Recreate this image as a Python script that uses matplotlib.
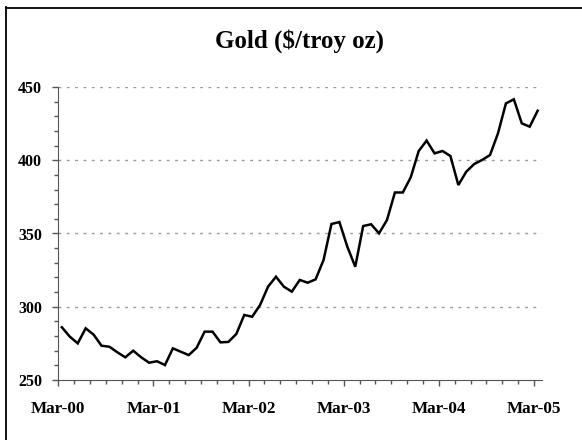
import matplotlib
matplotlib.use("Agg")
import matplotlib.pyplot as plt
from matplotlib.lines import Line2D
from matplotlib.ticker import MultipleLocator

# monthly gold price, Mar-00 .. Mar-05
prices = [286, 279.6, 275, 285.3, 281, 273.4, 272.7, 268.9, 265.5, 270,
          265.5, 261.8, 262.8, 260.2, 271.6, 269.3, 267, 272, 283, 283,
          275.7, 276, 281.4, 294.4, 293.2, 301.2, 313.7, 320.5, 313.7, 310.3,
          318.3, 316.4, 318.7, 331.9, 356.5, 357.8, 341, 327.3, 355.1, 356.3,
          350.1, 359.2, 378, 378, 388.4, 406.3, 413.4, 404.7, 406.3, 402.9,
          383.1, 392.2, 397.4, 400.2, 403.6, 418.4, 438.8, 441.6, 425.2, 422.9,
          433.8]
year_labels = ["Mar-00", "Mar-01", "Mar-02", "Mar-03", "Mar-04", "Mar-05"]
y_ticks = [250, 300, 350, 400, 450]

plt.rcParams['font.family'] = ['Liberation Serif', 'DejaVu Serif']

fig = plt.figure(figsize=(5.82, 4.40), dpi=100)
ax = fig.add_axes([57.5 / 582, 60 / 440, 484.5 / 582, 293 / 440])

# points sit a little after the month tick (mid-month values)
months = [i + 0.45 for i in range(len(prices))]
ax.plot(months, prices, color="black", lw=1.8, solid_joinstyle="miter")

ax.set_ylim(250, 450)
ax.set_xlim(-0.1, 61)
ax.set_yticks(y_ticks)
ax.yaxis.set_minor_locator(MultipleLocator(10))
ax.set_xticks(range(0, 61, 12))
ax.set_xticklabels(year_labels)
ax.xaxis.set_minor_locator(MultipleLocator(2))

for t in ax.get_xticklabels():
    t.set_fontweight("bold")
    t.set_fontsize(12.3)
for t in ax.get_yticklabels():
    t.set_fontweight("bold")
    t.set_fontsize(11.5)

ax.tick_params(axis="both", which="major", length=4.5, width=1, color="#555555")
ax.tick_params(axis="both", which="minor", length=3, width=1, color="#555555")
ax.tick_params(axis="x", pad=10.5)
ax.tick_params(axis="y", pad=6.5)

for g in y_ticks[1:]:
    ax.axhline(g, color="#999999", lw=1, ls=(0, (2, 4)), zorder=0)

ax.spines["top"].set_visible(False)
ax.spines["right"].set_visible(False)
ax.spines["left"].set_color("#555555")
ax.spines["bottom"].set_color("#555555")

fig.text(0.514, 0.891, "Gold ($/troy oz)", ha="center", va="baseline",
         fontsize=18, fontweight="bold")

# frame: only left and top edges are visible in the crop
fig.add_artist(Line2D([6, 6], [0, 433], transform=None, color="black", lw=1.3))
fig.add_artist(Line2D([5.5, 582], [432.5, 432.5], transform=None, color="black", lw=1.3))

fig.savefig("out.png", dpi=100)
